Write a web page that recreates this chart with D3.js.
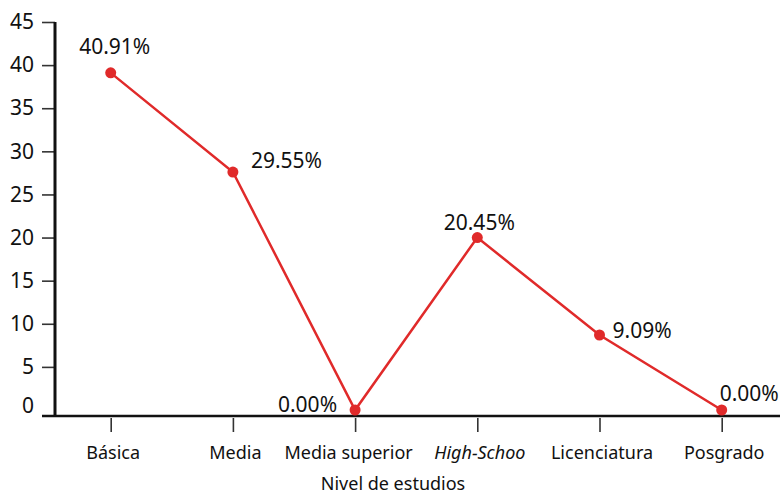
<!DOCTYPE html>
<html lang="es">
  <head>
    <meta charset="UTF-8" />
    <title>Nivel de estudios</title>
    <script src="https://d3js.org/d3.v7.min.js"></script>
    <style>
      body {
        margin: 0;
        background: #fff;
      }
      svg text {
        font-family: "Noto Sans", "Open Sans", sans-serif;
        fill: #111;
      }
      .line {
        fill: none;
        stroke: #e02a2a;
        stroke-width: 2.5px;
      }
      .dot {
        fill: #e02a2a;
      }
    </style>
  </head>
  <body>
    <svg width="783" height="496"></svg>

    <script>
      const categories = [
        "Básica",
        "Media",
        "Media superior",
        "High-Schoo",
        "Licenciatura",
        "Posgrado",
      ];
      const values = [39.1, 27.6, 0, 20.0, 8.7, 0];
      const valueLabels = ["40.91%", "29.55%", "0.00%", "20.45%", "9.09%", "0.00%"];
      const yTicks = [0, 5, 10, 15, 20, 25, 30, 35, 40, 45];

      // where each percentage sits relative to its point
      const labelPlace = [
        { anchor: "middle", dx: 4, dy: -19 },
        { anchor: "start", dx: 18, dy: -4 },
        { anchor: "end", dx: -18, dy: 2 },
        { anchor: "middle", dx: 2, dy: -8 },
        { anchor: "start", dx: 13, dy: 3 },
        { anchor: "start", dx: -2, dy: -9 },
      ];

      const svg = d3.select("svg");

      const x = d3
        .scalePoint()
        .domain(categories)
        .range([110.7, 721.7]);

      const y = d3.scaleLinear().domain([0, 45]).range([410, 22]);

      const axisY = 416;
      const axisX = 55;

      // y axis
      const gy = svg
        .append("g")
        .attr("transform", `translate(${axisX},0)`)
        .call(
          d3
            .axisLeft(y)
            .tickValues(yTicks)
            .tickSize(13)
            .tickPadding(8)
            .tickFormat(d3.format("d"))
        );
      gy.select(".domain").remove();
      gy.selectAll(".tick line").attr("stroke", "#333").attr("stroke-width", 1.6);
      gy.selectAll(".tick text").attr("font-size", 21).attr("fill", "#111");
      gy.selectAll(".tick")
        .filter((d) => d === 0)
        .select("line")
        .remove();
      gy.selectAll(".tick")
        .filter((d) => d === 0)
        .select("text")
        .attr("dy", "0.1em");

      svg
        .append("line")
        .attr("x1", axisX)
        .attr("x2", axisX)
        .attr("y1", 22)
        .attr("y2", axisY + 1)
        .attr("stroke", "#111")
        .attr("stroke-width", 3);

      // x axis
      svg
        .append("line")
        .attr("x1", 42)
        .attr("x2", 780)
        .attr("y1", axisY)
        .attr("y2", axisY)
        .attr("stroke", "#111")
        .attr("stroke-width", 2.5);

      const gx = svg
        .append("g")
        .attr("transform", `translate(0,${axisY + 2})`)
        .call(d3.axisBottom(x).tickSize(14).tickPadding(14));
      gx.select(".domain").remove();
      gx.selectAll(".tick line").attr("stroke", "#333").attr("stroke-width", 1.6);
      gx.selectAll(".tick text")
        .attr("font-size", 18)
        .attr("fill", "#111")
        .attr("dx", (d) => (d === "Media superior" ? -7 : 2))
        .style("font-style", (d) => (d === "High-Schoo" ? "italic" : null));

      svg
        .append("text")
        .attr("x", 393)
        .attr("y", 490)
        .attr("text-anchor", "middle")
        .attr("font-size", 18)
        .text("Nivel de estudios");

      // series
      const line = d3
        .line()
        .x((d, i) => x(categories[i]))
        .y((d) => y(d));

      svg.append("path").datum(values).attr("class", "line").attr("d", line);

      svg
        .selectAll(".dot")
        .data(values)
        .enter()
        .append("circle")
        .attr("class", "dot")
        .attr("cx", (d, i) => x(categories[i]))
        .attr("cy", (d) => y(d))
        .attr("r", 5.5);

      svg
        .selectAll(".value-label")
        .data(values)
        .enter()
        .append("text")
        .attr("class", "value-label")
        .attr("x", (d, i) => x(categories[i]) + labelPlace[i].dx)
        .attr("y", (d) => y(d))
        .attr("dy", (d, i) => labelPlace[i].dy)
        .attr("text-anchor", (d, i) => labelPlace[i].anchor)
        .attr("font-size", 21)
        .text((d, i) => valueLabels[i]);
    </script>
  </body>
</html>
